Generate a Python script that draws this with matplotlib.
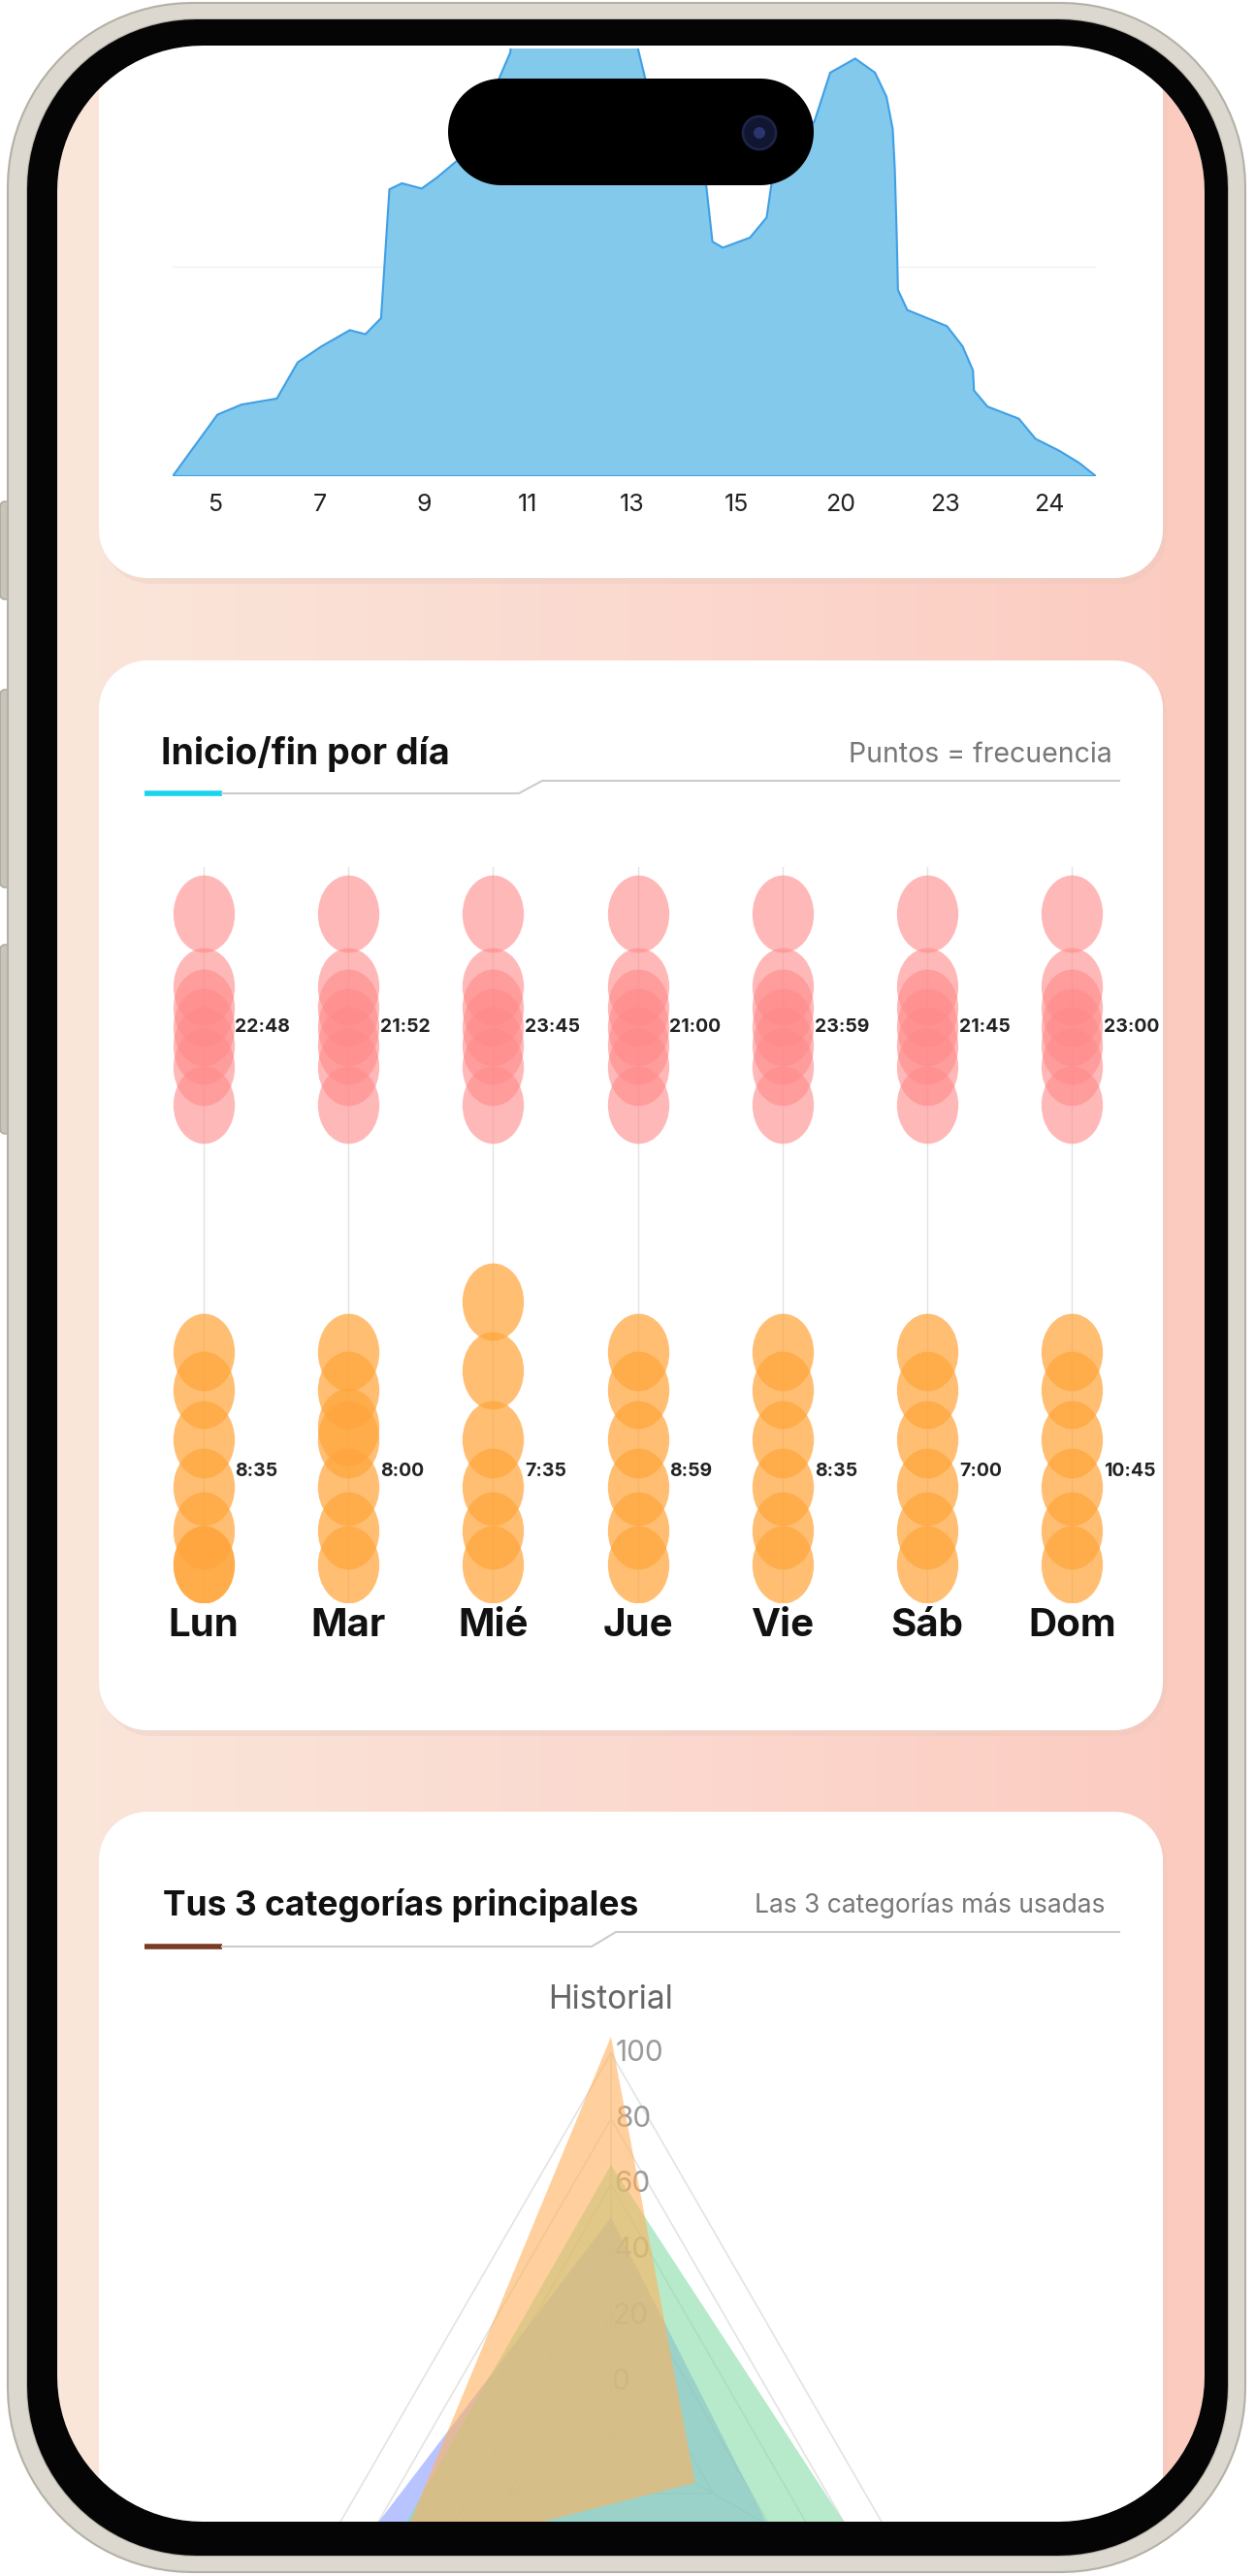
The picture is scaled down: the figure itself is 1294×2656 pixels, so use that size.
import numpy as np
import matplotlib
matplotlib.use("Agg")
import matplotlib.pyplot as plt
from matplotlib.path import Path
from matplotlib.patches import PathPatch, Circle
from matplotlib.markers import MarkerStyle

plt.rcParams['font.family'] = ['Inter', 'DejaVu Sans']

W, H = 1294, 2656

# --- datos: gráfico de área (horas) ---
hour_labels = ['5', '7', '9', '11', '13', '15', '20', '23', '24']
area_x = [-0.41, 0.02, 0.25, 0.59, 0.79, 1.02, 1.29, 1.44, 1.59, 1.67, 1.79, 1.98, 2.13, 2.36,
          2.63, 2.83, 2.86, 3.48, 4.02, 4.13, 4.40, 4.71, 4.77, 4.87, 5.13, 5.29, 5.34, 5.52,
          5.75, 5.90, 6.14, 6.33, 6.44, 6.50, 6.52, 6.54, 6.55, 6.64, 7.02, 7.17, 7.27, 7.28,
          7.41, 7.71, 7.87, 8.10, 8.29, 8.45]
area_y = [0, 153, 178, 193, 283, 323, 363, 353, 393, 713, 728, 715, 743, 793,
          933, 1053, 1150, 1200, 1100, 983, 833, 723, 583, 568, 593, 643, 733, 803,
          883, 1003, 1038, 1003, 943, 863, 763, 583, 463, 413, 373, 323, 263, 213,
          173, 143, 93, 63, 33, 0]

# --- datos: inicio/fin por día (horas; >24 = madrugada siguiente) ---
days = ['Lun', 'Mar', 'Mié', 'Jue', 'Vie', 'Sáb', 'Dom']
end_times = [26.4, 24.1, 23.4, 22.8, 22.2, 21.5, 20.3]
start_times = {
    'Lun': [12.4, 11.2, 9.6, 8.1, 6.7, 5.6, 5.6],
    'Mar': [12.4, 11.2, 10.0, 9.6, 8.1, 6.7, 5.6],
    'Mié': [14.0, 11.8, 9.6, 8.1, 6.7, 5.6],
    'Jue': [12.4, 11.2, 9.6, 8.1, 6.7, 5.6],
    'Vie': [12.4, 11.2, 9.6, 8.1, 6.7, 5.6],
    'Sáb': [12.4, 11.2, 9.6, 8.1, 6.7, 5.6],
    'Dom': [12.4, 11.2, 9.6, 8.1, 6.7, 5.6],
}
end_labels = ['22:48', '21:52', '23:45', '21:00', '23:59', '21:45', '23:00']
start_labels = ['8:35', '8:00', '7:35', '8:59', '8:35', '7:00', '10:45']
END_LABEL_Y, START_LABEL_Y = 22.8, 8.58

# --- datos: radar ---
radar_labels = ['Historial', '', '']
radar_blue = [50, 39, 88]
radar_green = [66, 83, 65]
radar_orange = [105, 13.5, 60]
radar_ticks = [0, 20, 40, 60, 80, 100]


def rrect(x0, y0, x1, y1, r, reverse=False, n=24):
    pts = []
    corners = [(x1 - r, y0 + r, -90, 0), (x1 - r, y1 - r, 0, 90),
               (x0 + r, y1 - r, 90, 180), (x0 + r, y0 + r, 180, 270)]
    for cx, cy, a0, a1 in corners:
        t = np.radians(np.linspace(a0, a1, n))
        pts += list(zip(cx + r * np.cos(t), cy + r * np.sin(t)))
    if reverse:
        pts = pts[::-1]
    pts.append(pts[0])
    return pts


def rpath(*rects):
    verts, codes = [], []
    for pts in rects:
        verts += pts
        codes += [Path.MOVETO] + [Path.LINETO] * (len(pts) - 2) + [Path.CLOSEPOLY]
    return Path(verts, codes)


def add_axes_px(x0, y0, x1, y1, **kw):
    return fig.add_axes([x0 / W, 1 - y1 / H, (x1 - x0) / W, (y1 - y0) / H], **kw)


fig = plt.figure(figsize=(W / 100, H / 100), dpi=100)
fig.patch.set_facecolor('white')

# fondo
bg = fig.add_axes([0, 0, 1, 1], zorder=0)
bg.set_xlim(0, W)
bg.set_ylim(H, 0)
bg.axis('off')
screen = (59, 47, 1242, 2600, 150)
grad = np.linspace(0, 1, 256)[None, :]
cmap = matplotlib.colors.LinearSegmentedColormap.from_list('g', ['#fae6da', '#fbd9cf', '#fccbc0'])
im = bg.imshow(grad, extent=(59, 1242, 2600, 47), cmap=cmap, aspect='auto')
scr_patch = PathPatch(rpath(rrect(*screen)), facecolor='none', edgecolor='none')
bg.add_patch(scr_patch)
im.set_clip_path(scr_patch)

# tarjetas
for (y0, y1) in [(-100, 596), (681, 1784), (1868, 2900)]:
    bg.add_patch(PathPatch(rpath(rrect(106, y0 + 6, 1203, y1 + 6, 50)), facecolor='#e8c8bc',
                           edgecolor='none', alpha=0.35))
    bg.add_patch(PathPatch(rpath(rrect(102, y0, 1199, y1, 50)), facecolor='white', edgecolor='none'))

# encabezados
bg.text(166, 778, 'Inicio/fin por día', fontsize=27, fontweight='bold', color='#111111', va='center')
bg.text(1147, 778, 'Puntos = frecuencia', fontsize=20.5, color='#777777', va='center', ha='right')
bg.plot([149, 229], [818, 818], color='#18d4ef', lw=4, solid_capstyle='butt')
bg.plot([229, 535, 559, 1154], [818, 818, 805, 805], color='#cccccc', lw=1.5)

bg.text(168, 1965, 'Tus 3 categorías principales', fontsize=25.5, fontweight='bold', color='#111111', va='center')
bg.text(1140, 1965, 'Las 3 categorías más usadas', fontsize=19, color='#777777', va='center', ha='right')
bg.plot([149, 229], [2007, 2007], color='#7a3b24', lw=4, solid_capstyle='butt')
bg.plot([229, 610, 635, 1154], [2007, 2007, 1992, 1992], color='#cccccc', lw=1.5)

# --- gráfico 1: área ---
ax1 = add_axes_px(178, 50, 1130, 491, zorder=1)
ax1.set_facecolor('none')
ax1.fill(area_x, area_y, facecolor='#82c9ec', edgecolor='#3f9fe6', lw=1.5, zorder=2)
ax1.plot([-0.41, 8.45], [0, 0], color='#3f9fe6', lw=2, zorder=3)
ax1.set_xlim(-0.41, 8.45)
ax1.set_ylim(0, 1063)
ax1.set_xticks(range(len(hour_labels)))
ax1.set_xticklabels(hour_labels, fontsize=18, color='#222222')
ax1.set_yticks([520])
ax1.set_yticklabels([])
ax1.grid(axis='y', color='#f0f0f0', lw=1)
ax1.tick_params(length=0, pad=13)
for s in ax1.spines.values():
    s.set_visible(False)

# --- gráfico 2: puntos ---
ax2 = add_axes_px(135, 894, 1180, 1652, zorder=1)
ax2.set_facecolor('none')
circ = Path.unit_circle()
ell = MarkerStyle(Path(circ.vertices * [1, 1.26], circ.codes))
for i, d in enumerate(days):
    ax2.plot([i, i], [4.4, 27.9], color='#e2e2e2', lw=1, zorder=1)
    ax2.scatter([i] * len(end_times), end_times, s=3300, marker=ell, color='#ff8a8a',
                alpha=0.6, linewidths=0, zorder=2)
    ax2.scatter([i] * len(start_times[d]), start_times[d], s=3300, marker=ell, color='#ffa53c',
                alpha=0.72, linewidths=0, zorder=2)
    ax2.text(i + 0.22, END_LABEL_Y, end_labels[i], fontsize=14, fontweight='bold',
             color='#222222', va='center', zorder=3)
    ax2.text(i + 0.22, START_LABEL_Y, start_labels[i], fontsize=14, fontweight='bold',
             color='#222222', va='center', zorder=3)
ax2.set_xlim(-0.5, 6.5)
ax2.set_ylim(4.4, 27.9)
ax2.set_xticks(range(len(days)))
ax2.set_xticklabels(days, fontsize=29, fontweight='bold', color='#111111')
ax2.set_yticks([])
ax2.tick_params(length=0, pad=4)
for s in ax2.spines.values():
    s.set_visible(False)

# --- gráfico 3: radar ---
ax3 = add_axes_px(220, 2100, 1040, 2920, projection='polar', zorder=1)
ax3.set_facecolor('none')
ax3.set_theta_offset(np.pi / 2)
ax3.set_theta_direction(-1)
ax3.set_ylim(-16, 105)
ax3.grid(False)
ax3.spines['polar'].set_visible(False)
ax3.set_xticks([])
ax3.set_yticks([])
ang = np.linspace(0, 2 * np.pi, 4)
for t in radar_ticks[1:]:
    ax3.plot(ang, [t] * 4, color='#e3e3e3', lw=1.2, zorder=1)
for a in ang[:3]:
    ax3.plot([a, a], [-16, 100], color='#e3e3e3', lw=1.2, zorder=1)
for t in radar_ticks:
    ax3.text(0.012, t, str(t), fontsize=21.5, color='#9a9a9a', va='center', ha='left', zorder=1)
for vals, col, al in [(radar_blue, '#7f95ff', 0.55), (radar_green, '#86dca8', 0.6),
                      (radar_orange, '#ffb25c', 0.6)]:
    ax3.fill(ang, vals + vals[:1], facecolor=col, alpha=al, edgecolor='none', zorder=2)
bg.text(630, 2062, radar_labels[0], fontsize=24, color='#666666', ha='center', va='center')

# --- marco del teléfono ---
ov = fig.add_axes([0, 0, 1, 1], zorder=10)
ov.set_xlim(0, W)
ov.set_ylim(H, 0)
ov.axis('off')
ov.patch.set_alpha(0)
outer = rrect(8, 3, 1284, 2652, 190)
ov.add_patch(PathPatch(rpath([(-5, -5), (W + 5, -5), (W + 5, H + 5), (-5, H + 5), (-5, -5)],
                             rrect(8, 3, 1284, 2652, 190, reverse=True)),
                       facecolor='white', edgecolor='none'))
for y0, y1 in [(517, 618), (711, 915), (974, 1169)]:
    ov.add_patch(PathPatch(rpath(rrect(0, y0, 14, y1, 5)), facecolor='#c9c4ba', edgecolor='#a9a49a'))
bezel = rrect(28, 20, 1266, 2635, 175)
ov.add_patch(PathPatch(rpath(outer, rrect(28, 20, 1266, 2635, 175, reverse=True)),
                       facecolor='#dcd8d0', edgecolor='#b5b0a6', lw=1.5))
ov.add_patch(PathPatch(rpath(bezel, rrect(*screen, reverse=True)), facecolor='#050505', edgecolor='none'))
ov.add_patch(PathPatch(rpath(rrect(462, 81, 839, 191, 55)), facecolor='black', edgecolor='none'))
ov.add_patch(Circle((783, 137), 17, facecolor='#101530', edgecolor='#1c2448', lw=2))
ov.add_patch(Circle((783, 137), 6, facecolor='#2a3570', edgecolor='none'))

fig.savefig('out.png', dpi=100)
